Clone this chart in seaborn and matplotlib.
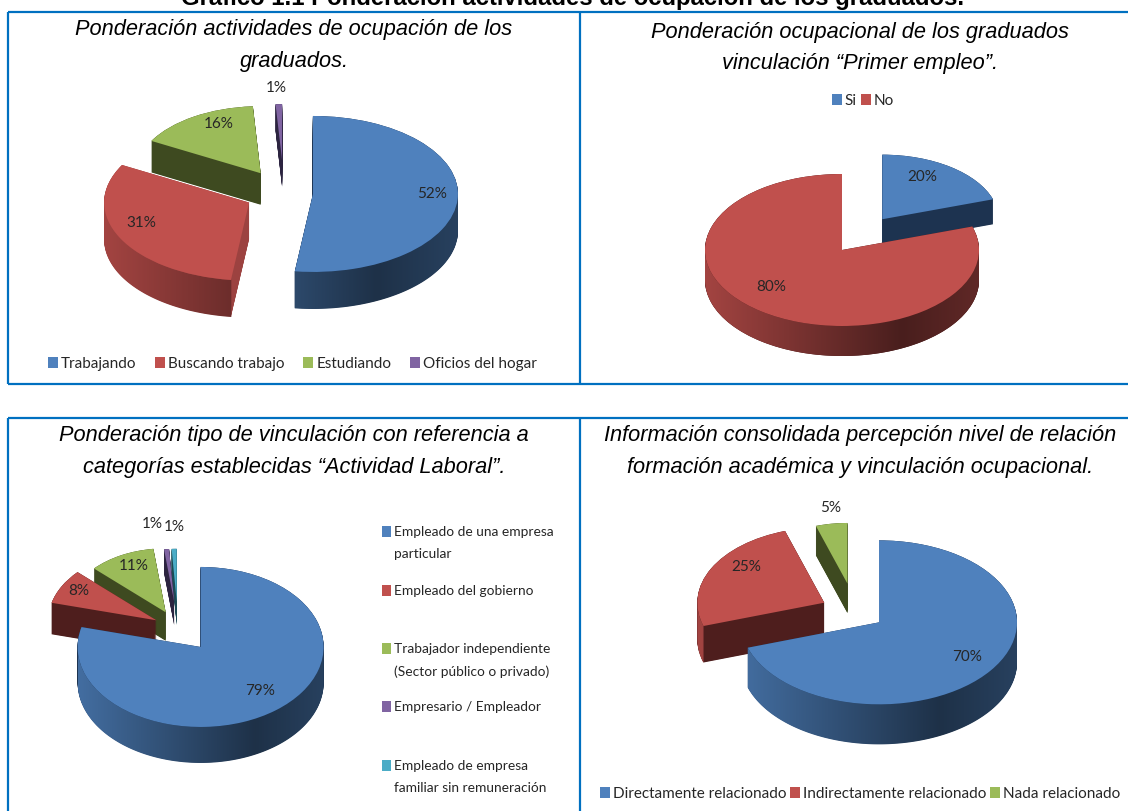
import numpy as np
import matplotlib
matplotlib.use("Agg")
import matplotlib.pyplot as plt
import seaborn as sns
from matplotlib.colors import LinearSegmentedColormap, to_rgb
from matplotlib.patches import Wedge, Patch, Rectangle, PathPatch
from matplotlib.path import Path

sns.set_theme(style="white")
plt.rcParams["font.family"] = ["Lato", "DejaVu Sans"]

W, H = 1128, 811
main_title = "Gráfico 1.1 Ponderación actividades de ocupación de los graduados."

t1 = "Ponderación actividades de ocupación de los\ngraduados."
l1 = ["Trabajando", "Buscando trabajo", "Estudiando", "Oficios del hogar"]
v1 = [52, 31, 16, 1]

t2 = "Ponderación ocupacional de los graduados\nvinculación “Primer empleo”."
l2 = ["Si", "No"]
v2 = [20, 80]

t3 = "Ponderación tipo de vinculación con referencia a\ncategorías establecidas “Actividad Laboral”."
l3 = ["Empleado de una empresa\nparticular", "Empleado del gobierno",
      "Trabajador independiente\n(Sector público o privado)", "Empresario / Empleador",
      "Empleado de empresa\nfamiliar sin remuneración"]
v3 = [79, 8, 11, 1, 1]

t4 = "Información consolidada percepción nivel de relación\nformación académica y vinculación ocupacional."
l4 = ["Directamente relacionado", "Indirectamente relacionado", "Nada relacionado"]
v4 = [70, 25, 5]

palette = sns.color_palette(["#4F81BD", "#C0504D", "#9BBB59", "#8064A2", "#4BACC6"])
BLUE_W, RED_W, RED_W2, GRN_W, PUR_W, TEA_W = "#1D3350", "#9C4240", "#4E1E1D", "#3E4A20", "#2C2440", "#1C4A55"

fig = plt.figure(figsize=(W / 100, H / 100), dpi=100, facecolor="white")


def pie3d(values, cx, cy, rx, ry, depth, explode, radii, walls, order):
    w, h = rx * 1.7, ry * 2.4
    ax = fig.add_axes([(cx - w) / W, 1 - (cy + h) / H, 2 * w / W, 2 * h / H])
    wedges, _ = ax.pie(values, colors=palette[:len(values)], startangle=90, counterclock=False,
                       explode=explode, radius=1.0, wedgeprops=dict(linewidth=0))
    ax.set_aspect("auto")
    for rank, i in enumerate(order):
        wd = wedges[i]
        wd.set_radius(radii[i])
        d = depth * radii[i] / ry
        z = 10 + rank * 100
        base = np.array(to_rgb(palette[i]))
        for k in np.arange(0, d, 0.5 / ry):
            ax.add_patch(Wedge((wd.center[0], wd.center[1] - k), wd.r, wd.theta1, wd.theta2,
                               fc=walls[i], lw=0, zorder=z))
        ang = np.radians(np.arange(wd.theta1, wd.theta2 + 0.25, 0.25))
        ang = ang[np.sin(ang) <= 0]
        if len(ang) > 1:
            x = wd.center[0] + wd.r * np.cos(ang)
            y = wd.center[1] + wd.r * np.sin(ang)
            verts = np.r_[np.c_[x, y], np.c_[x[::-1], y[::-1] - d]]
            patch = PathPatch(Path(np.r_[verts, verts[:1]], closed=True), fc="none", lw=0,
                              zorder=z + 1)
            ax.add_patch(patch)
            cmap = LinearSegmentedColormap.from_list(
                "rim", [(0, base * 0.85), (0.72, base * 0.38), (1, base * 0.5)])
            im = ax.imshow(np.linspace(0, 1, 256)[None, :], cmap=cmap, aspect="auto",
                           extent=[wd.center[0] - wd.r, wd.center[0] + wd.r, -3, 3],
                           zorder=z + 1)
            im.set_clip_path(patch)
        wd.set_zorder(z + 2)
    ax.set_xlim(-w / rx, w / rx)
    ax.set_ylim(-h / ry, h / ry)
    return ax


pie3d(v1, 284, 193, 145, 78, 37, [0.2, 0.27, 0.3, 0.42], [1, 1, 0.86, 0.72],
      [BLUE_W, RED_W, GRN_W, PUR_W], [3, 2, 1, 0])
pie3d(v2, 842, 250, 137, 76, 30, [0.5, 0.0], [0.85, 1],
      [BLUE_W, RED_W2], [0, 1])
pie3d(v3, 178, 628, 123, 80, 36, [0.3, 0.2, 0.22, 0.33, 0.33], [1, 0.88, 0.8, 0.66, 0.66],
      [BLUE_W, RED_W2, GRN_W, PUR_W, TEA_W], [4, 3, 2, 1, 0])
pie3d(v4, 855, 612, 138, 82, 40, [0.215, 0.25, 0.35], [1, 0.92, 0.74],
      [BLUE_W, RED_W2, GRN_W], [2, 1, 0])

ov = fig.add_axes([0, 0, 1, 1], facecolor="none", zorder=50)
ov.set_xlim(0, W)
ov.set_ylim(H, 0)
ov.axis("off")

# frames
frame = "#0070C0"
for x0, y0, x1, y1 in [(8, 12, W, 12), (8, 384, W, 384), (8, 12, 8, 384), (580, 12, 580, 384),
                       (8, 418, W, 418), (8, 418, 8, H), (580, 418, 580, H)]:
    ov.plot([x0, x1], [y0, y1], color=frame, lw=1.6, solid_capstyle="butt")

# titles
ov.text(573, 5, main_title, family="Liberation Sans", weight="bold", size=17.2, ha="center",
        va="baseline", color="black")
for txt, x, y in [(t1, 294, 45.5), (t2, 860, 48), (t3, 294, 451.5), (t4, 860, 451.5)]:
    ov.text(x, y, txt, family="Liberation Sans", style="italic", size=15.7,
            ha="center", va="center", linespacing=1.64, color="black")

# percent labels
TXT = "#262626"
for vals, pos in [(v1, [(432, 194), (141, 223), (219, 124), (276, 88)]),
                  (v2, [(922, 177), (771, 287)]),
                  (v3, [(260, 691), (79, 591), (134, 566), (152, 524), (174, 527)]),
                  (v4, [(967, 657), (746, 567), (831, 508)])]:
    for v, (x, y) in zip(vals, pos):
        ov.text(x, y, f"{v}%", ha="center", va="center", size=11, color=TXT)


def legend(labels, x, y, ncols, cs):
    handles = [Patch(fc=palette[i], lw=0) for i in range(len(labels))]
    lg = ov.legend(handles, labels, loc="center", bbox_to_anchor=(x, y), bbox_transform=ov.transData,
                   ncols=ncols, frameon=False, fontsize=11, handlelength=0.65, handleheight=0.7,
                   handletextpad=0.2, columnspacing=cs, labelcolor=TXT, borderpad=0, borderaxespad=0)
    ov.add_artist(lg)
    ov.legend_ = None


legend(l1, 292.5, 364, 4, 1.23)
legend(l2, 863, 101, 2, 0.25)
legend(l4, 860, 794, 3, 0.25)

# vertical legend of the third panel
for i, (lab, y) in enumerate(zip(l3, [531, 590, 648, 706, 765])):
    ov.add_patch(Rectangle((382, y - 5.5), 9, 11, fc=palette[i], lw=0))
    ov.text(394, y - 5, lab, ha="left", va="top", size=9.9, color=TXT, linespacing=2.0)

fig.savefig("out.png", dpi=100)
